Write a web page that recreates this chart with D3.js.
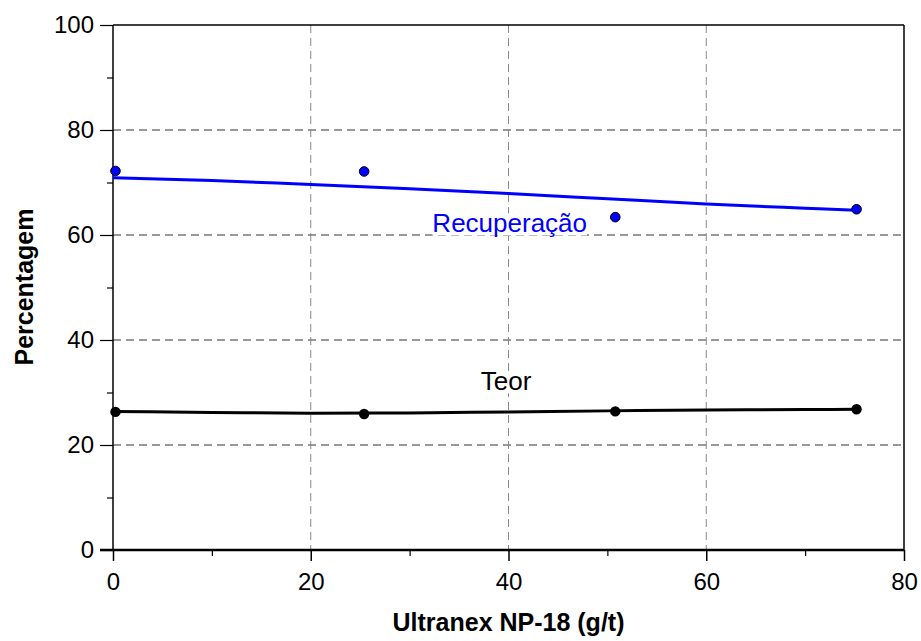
<!DOCTYPE html>
<html lang="pt">
<meta charset="utf-8"/>
<head>
<script src="https://d3js.org/d3.v7.min.js"></script>
</head>
<style>
  body { margin: 0; background: #fff; }
  text { font-family: Arial, "Liberation Sans", sans-serif; }
  .tick-label { font-size: 24px; fill: #000; }
  .title { font-size: 25px; font-weight: bold; fill: #000; }
</style>
<body>
<script>
// dados
var dosagem = [0.25, 25.4, 50.8, 75.2];
var recuperacao = [72.2, 72.1, 63.4, 64.9];
var teor = [26.3, 25.9, 26.4, 26.8];

// curvas ajustadas
var ajusteX = [0, 10, 20, 30, 40, 50, 60, 70, 75.2];
var ajusteRec = [70.9, 70.4, 69.6, 68.8, 67.9, 66.9, 65.9, 65.1, 64.7];
var ajusteTeor = [26.4, 26.2, 26.05, 26.1, 26.3, 26.5, 26.65, 26.75, 26.8];

var xTicks = [0, 20, 40, 60, 80];
var yTicks = [0, 20, 40, 60, 80, 100];

var margin = {top: 25, right: 17, bottom: 91, left: 113},
    width = 921 - margin.left - margin.right,
    height = 641 - margin.top - margin.bottom;

var svg = d3.select("body").append("svg")
    .attr("width", 921)
    .attr("height", 641)
  .append("g")
    .attr("transform", "translate(" + margin.left + "," + margin.top + ")");

var x = d3.scaleLinear().domain([0, 80]).range([0, width]);
var y = d3.scaleLinear().domain([0, 100]).range([height, 0]);

// grade
svg.selectAll(".hgrid")
    .data(yTicks.filter(function(d){ return d > 0 && d < 100; }))
    .enter().append("line")
    .attr("x1", 0).attr("x2", width)
    .attr("y1", function(d){ return y(d); })
    .attr("y2", function(d){ return y(d); })
    .attr("stroke", "#333").attr("stroke-width", 1)
    .attr("stroke-dasharray", "8,5");

svg.selectAll(".vgrid")
    .data(xTicks.filter(function(d){ return d > 0 && d < 80; }))
    .enter().append("line")
    .attr("x1", function(d){ return x(d); })
    .attr("x2", function(d){ return x(d); })
    .attr("y1", 0).attr("y2", height)
    .attr("stroke", "#888").attr("stroke-width", 1)
    .attr("stroke-dasharray", "8,5");

// moldura topo / direita
svg.append("line").attr("x1", 0).attr("x2", width).attr("y1", 0).attr("y2", 0)
    .attr("stroke", "#000").attr("stroke-width", 1.5);
svg.append("line").attr("x1", width).attr("x2", width).attr("y1", 0).attr("y2", height)
    .attr("stroke", "#000").attr("stroke-width", 1.5);

// eixos
var xAxis = svg.append("g")
    .attr("transform", "translate(0," + height + ")")
    .call(d3.axisBottom(x).tickValues(xTicks).tickSize(11).tickPadding(12).tickFormat(d3.format("d")));
var xMinor = svg.append("g")
    .attr("transform", "translate(0," + height + ")")
    .call(d3.axisBottom(x).tickValues([10, 30, 50, 70]).tickSize(6).tickFormat(""));
var yAxis = svg.append("g")
    .call(d3.axisLeft(y).tickValues(yTicks).tickSize(13).tickPadding(6).tickFormat(d3.format("d")));
var yMinor = svg.append("g")
    .call(d3.axisLeft(y).tickValues([10, 30, 50, 70, 90]).tickSize(6).tickFormat(""));

[xAxis, xMinor, yAxis, yMinor].forEach(function(g){
  g.select(".domain").remove();
  g.selectAll("line").attr("stroke", "#000").attr("stroke-width", 1.2);
  g.selectAll("text").attr("class", "tick-label").attr("font-size", null).attr("font-family", null);
});
xAxis.selectAll("line").attr("stroke-width", 1.5);

svg.append("line").attr("x1", 0).attr("x2", 0).attr("y1", 0).attr("y2", height)
    .attr("stroke", "#000").attr("stroke-width", 1.5);
svg.append("line").attr("x1", -13).attr("x2", width).attr("y1", height).attr("y2", height)
    .attr("stroke", "#000").attr("stroke-width", 2.5);

// curvas
var line = d3.line()
    .x(function(d){ return x(d[0]); })
    .y(function(d){ return y(d[1]); })
    .curve(d3.curveMonotoneX);

svg.append("path")
    .datum(ajusteX.map(function(d, i){ return [d, ajusteRec[i]]; }))
    .attr("d", line)
    .attr("fill", "none").attr("stroke", "#0000ff").attr("stroke-width", 3);

svg.append("path")
    .datum(ajusteX.map(function(d, i){ return [d, ajusteTeor[i]]; }))
    .attr("d", line)
    .attr("fill", "none").attr("stroke", "#000").attr("stroke-width", 3);

// pontos
svg.selectAll(".ptRec")
    .data(dosagem).enter().append("circle")
    .attr("cx", function(d){ return x(d); })
    .attr("cy", function(d, i){ return y(recuperacao[i]); })
    .attr("r", 4.8)
    .attr("fill", "#0000ff").attr("stroke", "#000").attr("stroke-width", 1);

svg.selectAll(".ptTeor")
    .data(dosagem).enter().append("circle")
    .attr("cx", function(d){ return x(d); })
    .attr("cy", function(d, i){ return y(teor[i]); })
    .attr("r", 5.2)
    .attr("fill", "#000");

// rotulos das series
function rotulo(txt, xv, yv, cor) {
  var t = svg.append("text")
      .attr("x", x(xv)).attr("y", y(yv))
      .attr("font-size", 26)
      .attr("fill", cor)
      .text(txt);
  var b = t.node().getBBox();
  svg.insert("rect", function(){ return t.node(); })
      .attr("x", b.x).attr("y", b.y + 5)
      .attr("width", b.width).attr("height", b.height - 8)
      .attr("fill", "#fff");
}
rotulo("Recuperação", 32.3, 60.5, "#0000ff");
rotulo("Teor", 37.2, 30.4, "#000");

// titulos
svg.append("text")
    .attr("class", "title")
    .attr("text-anchor", "middle")
    .attr("x", width / 2)
    .attr("y", height + 81)
    .text("Ultranex NP-18 (g/t)");

svg.append("text")
    .attr("class", "title")
    .attr("text-anchor", "middle")
    .attr("transform", "translate(" + (33 - margin.left) + "," + (287 - margin.top) + ") rotate(-90)")
    .text("Percentagem");
</script>
</body>
</html>
